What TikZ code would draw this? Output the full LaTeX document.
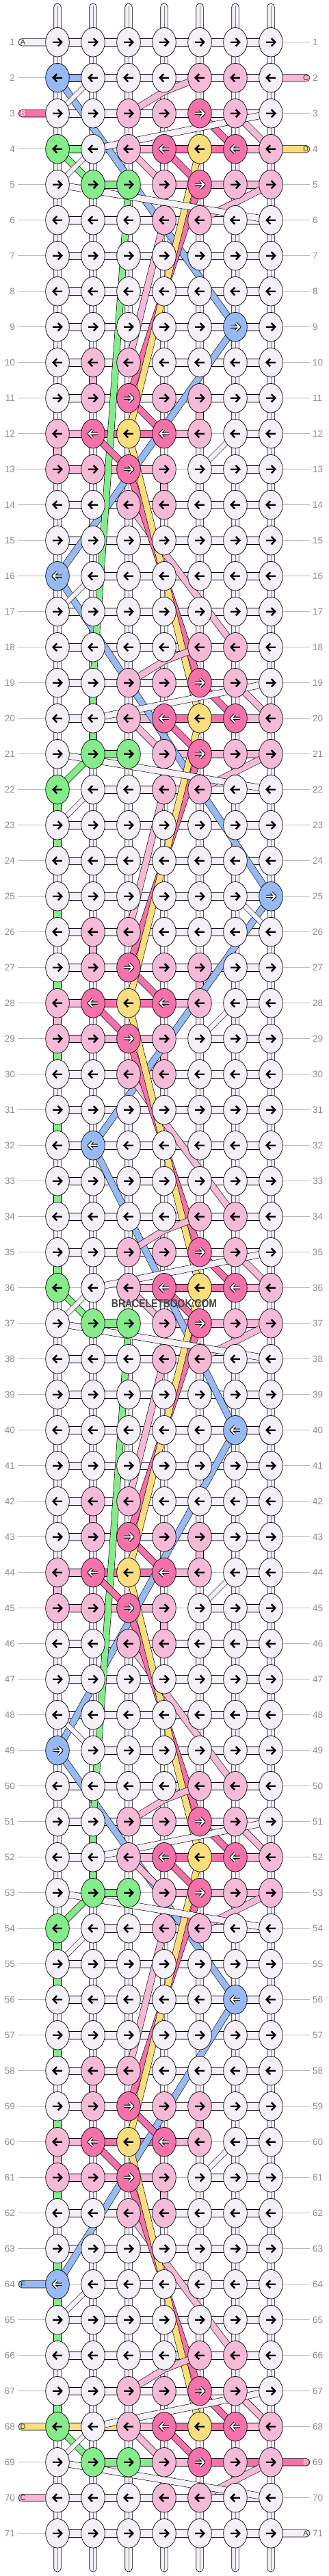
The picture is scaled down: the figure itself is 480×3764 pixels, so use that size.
\documentclass[tikz,border=0pt]{standalone}
\usepackage{fontspec}
\setmainfont{Liberation Sans}
\usetikzlibrary{shapes.geometric}
\definecolor{kW}{HTML}{F5F0F8}
\definecolor{kP}{HTML}{F5BAD7}
\definecolor{kH}{HTML}{F571A9}
\definecolor{kY}{HTML}{FADE7E}
\definecolor{kB}{HTML}{97B9F4}
\definecolor{kG}{HTML}{86EB8B}
\pgfdeclarelayer{grid}
\pgfdeclarelayer{strands}
\pgfsetlayers{grid,strands,main}
\tikzset{
  knot/.style={ellipse, draw=black, line width=0.7pt, minimum width=34.6pt, minimum height=42.6pt, inner sep=0pt},
  band/.style={draw=black, line width=0.6pt, double=#1, double distance=8.8pt, line join=round},
  thinband/.style={draw=black, line width=0.5pt, double=#1, double distance=6.6pt},
  seg/.style={draw=black, line width=0.6pt, fill=#1},
  rowline/.style={draw=black!28, line width=0.8pt},
  rowlbl/.style={text=black!45, font=\fontsize{13.5}{14}\selectfont, inner sep=0pt},
  tablbl/.style={font=\fontsize{11}{12}\selectfont, inner sep=0pt},
  arrowblk/.style={line width=2.4pt, black},
  arrowout/.style={line width=4.3pt, black, line join=round},
  arrowin/.style={line width=2pt, white}
}
\begin{document}
\begin{tikzpicture}[x=1pt, y=-1pt]
\useasboundingbox (0,0) rectangle (480,3764);
\foreach \rw/\cl in {
  1/{W,W,W,W,W,W,W}, 2/{B,W,W,W,P,P,W}, 3/{W,W,P,P,H,P,W}, 4/{G,W,P,H,Y,H,P},
  5/{W,G,G,P,H,P,P}, 6/{W,W,W,P,P,W,W}, 7/{W,W,W,W,W,W,W}, 8/{W,W,W,W,W,W,W},
  9/{W,W,W,W,W,B,W}, 10/{W,P,P,W,W,W,W}, 11/{W,P,H,P,P,W,W}, 12/{P,H,Y,H,P,W,W},
  13/{P,P,H,P,W,W,W}, 14/{W,W,P,P,W,W,W}, 15/{W,W,W,W,W,W,W}, 16/{B,W,W,W,W,W,W},
  17/{W,W,W,W,W,W,W}, 18/{W,W,W,W,P,P,W}, 19/{W,W,P,P,H,P,W}, 20/{W,W,P,H,Y,H,P},
  21/{W,G,G,P,H,P,P}, 22/{G,W,W,P,P,W,W}, 23/{W,W,W,W,W,W,W}, 24/{W,W,W,W,W,W,W},
  25/{W,W,W,W,W,W,B}, 26/{W,P,P,W,W,W,W}, 27/{W,P,H,P,P,W,W}, 28/{P,H,Y,H,P,W,W},
  29/{P,P,H,P,W,W,W}, 30/{W,W,P,P,W,W,W}, 31/{W,W,W,W,W,W,W}, 32/{W,B,W,W,W,W,W},
  33/{W,W,W,W,W,W,W}, 34/{W,W,W,W,P,P,W}, 35/{W,W,P,P,H,P,W}, 36/{G,W,P,H,Y,H,P},
  37/{W,G,G,P,H,P,P}, 38/{W,W,W,P,P,W,W}, 39/{W,W,W,W,W,W,W}, 40/{W,W,W,W,W,B,W},
  41/{W,W,W,W,W,W,W}, 42/{W,P,P,W,W,W,W}, 43/{W,P,H,P,P,W,W}, 44/{P,H,Y,H,P,W,W},
  45/{P,P,H,P,W,W,W}, 46/{W,W,P,P,W,W,W}, 47/{W,W,W,W,W,W,W}, 48/{W,W,W,W,W,W,W},
  49/{B,W,W,W,W,W,W}, 50/{W,W,W,W,P,P,W}, 51/{W,W,P,P,H,P,W}, 52/{W,W,P,H,Y,H,P},
  53/{W,G,G,P,H,P,P}, 54/{G,W,W,P,P,W,W}, 55/{W,W,W,W,W,W,W}, 56/{W,W,W,W,W,B,W},
  57/{W,W,W,W,W,W,W}, 58/{W,P,P,W,W,W,W}, 59/{W,P,H,P,P,W,W}, 60/{P,H,Y,H,P,W,W},
  61/{P,P,H,P,W,W,W}, 62/{W,W,P,P,W,W,W}, 63/{W,W,W,W,W,W,W}, 64/{B,W,W,W,W,W,W},
  65/{W,W,W,W,W,W,W}, 66/{W,W,W,W,P,P,W}, 67/{W,W,P,P,H,P,W}, 68/{G,W,P,H,Y,H,P},
  69/{W,G,G,P,H,P,P}, 70/{W,W,W,P,P,W,W}, 71/{W,W,W,W,W,W,W}} {
  \foreach \kk [count=\ci] in \cl {
    \node[knot, fill=k\kk] (k-\rw-\ci) at ({84+52*(\ci-1)}, {61.7+52*(\rw-1)}) {};
    \def\wa{0}
    \if\kk H\def\wa{1}\fi
    \if\kk B\ifnum\rw>2 \def\wa{1}\fi\fi
    \ifodd\rw \def\dr{1}\else \def\dr{-1}\fi
    \begin{scope}[shift={(k-\rw-\ci.center)}, xscale=\dr]
      \ifnum\wa=1
        \draw[arrowout] (-6.8,0) -- (5.8,0) (0.8,-5.6) -- (6.3,0) -- (0.8,5.6);
        \draw[arrowin] (-6.8,0) -- (5.8,0) (0.8,-5.6) -- (6.3,0) -- (0.8,5.6);
      \else
        \draw[arrowblk] (-6.8,0) -- (5.8,0) (0.8,-5.6) -- (6.3,0) -- (0.8,5.6);
      \fi
    \end{scope}
  }
  \node[rowlbl, anchor=east] (ll-\rw) at ([xshift=-62pt]k-\rw-1.center) {\rw};
  \node[rowlbl, anchor=west] (rl-\rw) at ([xshift=61pt]k-\rw-7.center) {\rw};
}

\begin{pgfonlayer}{grid}
  \foreach \rw in {1,...,71} {
    \draw[rowline] ([xshift=-58pt]k-\rw-1.center) -- ([xshift=57pt]k-\rw-7.center);
  }
  \foreach \ci in {1,...,7} {
    \draw[seg=kW, rounded corners=5.3pt] ([xshift=-5.3pt,yshift=56.7pt]k-1-\ci.center) rectangle ([xshift=5.3pt,yshift=-56.3pt]k-71-\ci.center);
    \draw[black!50, line width=0.5pt] ([yshift=53pt]k-1-\ci.center) -- ([yshift=-53pt]k-71-\ci.center);
  }
  \foreach \rw in {1,...,71} {
    \foreach \ci in {1,...,6} {
      \pgfmathtruncatemacro\cj{\ci+1}
      \draw[seg=kW] ([yshift=5.3pt]k-\rw-\ci.center) rectangle ([yshift=-5.3pt]k-\rw-\cj.center);
    }
  }
  \foreach \rows/\segs in {
    {4,20,36,52,68}/{3/P,4/H,5/H,6/P},
    {5,21,37,53}/{1/N,2/G,3/N,4/P,5/P,6/P},
    {69}/{1/N,2/G,3/G,4/P,5/H,6/H},
    {12,28,44,60}/{1/P,2/H,3/H,4/P,5/N},
    {13,29,45,61}/{1/P,2/P,3/P,4/N},
    {16,22,36,49,54,64}/{1/N},
    {2}/{1/B}, {4}/{1/G}, {36}/{2/N}, {68}/{1/Y,2/Y}} {
    \foreach \rw in \rows {
      \foreach \ci/\kk in \segs {
        \pgfmathtruncatemacro\cj{\ci+1}
        \if\kk N
          \fill[white] ([yshift=6pt]k-\rw-\ci.center) rectangle ([yshift=-6pt]k-\rw-\cj.center);
          \draw[rowline] (k-\rw-\ci.center) -- (k-\rw-\cj.center);
        \else
          \draw[seg=k\kk] ([yshift=5.3pt]k-\rw-\ci.center) rectangle ([yshift=-5.3pt]k-\rw-\cj.center);
        \fi
      }
    }
  }
  \foreach \ci/\rw/\kk in {1/22/G, 1/23/G, 1/25/G, 1/27/G, 1/29/G, 1/31/G, 1/33/G, 1/35/G,
      1/54/G, 1/55/G, 1/57/G, 1/59/G, 1/61/G, 1/63/G, 1/64/G, 1/65/G, 1/67/G,
      2/10/P, 5/11/P, 1/12/P, 4/13/P, 2/26/P, 5/27/P, 1/28/P, 4/29/P,
      2/42/P, 5/43/P, 1/44/P, 4/45/P, 2/58/P, 5/59/P, 1/60/P, 4/61/P} {
    \pgfmathtruncatemacro\rn{\rw+1}
    \draw[seg=k\kk] ([xshift=-5.3pt]k-\rw-\ci.center) rectangle ([xshift=5.3pt]k-\rn-\ci.center);
  }
  \foreach \rw/\kk in {1/W, 3/H, 64/B, 68/Y, 70/P} {
    \draw[seg=k\kk, rounded corners=5.3pt] ([xshift=-57pt,yshift=5.3pt]k-\rw-1.center) rectangle ([yshift=-5.3pt]k-\rw-1.center);
  }
  \foreach \rw/\kk in {2/P, 4/Y, 69/H, 71/W} {
    \draw[seg=k\kk, rounded corners=5.3pt] ([yshift=5.3pt]k-\rw-7.center) rectangle ([xshift=57pt,yshift=-5.3pt]k-\rw-7.center);
  }
\end{pgfonlayer}

\begin{pgfonlayer}{strands}
  \draw[band=kB] (k-2-1.center) -- (k-9-6.center) -- (k-16-1.center) -- (k-25-7.center) -- (k-32-2.center) -- (k-40-6.center) -- (k-49-1.center) -- (k-56-6.center) -- (k-64-1.center);
  \draw[band=kG] (k-5-3.center) -- (k-19-2.center) -- (k-21-2.center) -- (k-22-1.center);
  \draw[band=kG] (k-37-3.center) -- (k-51-2.center) -- (k-53-2.center) -- (k-54-1.center);
  \foreach \rw in {4,36,68} {
    \pgfmathtruncatemacro\rn{\rw+1}
    \draw[band=kG] (k-\rw-1.center) -- (k-\rn-2.center);
  }
  \foreach \ml in {10,26,42,58} {
    \pgfmathtruncatemacro\qa{\ml+1}
    \pgfmathtruncatemacro\qb{\ml+2}
    \pgfmathtruncatemacro\qc{\ml+3}
    \pgfmathtruncatemacro\qd{\ml+4}
    \pgfmathtruncatemacro\qe{\ml+8}
    \pgfmathtruncatemacro\qf{\ml+9}
    \pgfmathtruncatemacro\qg{\ml+10}
    \draw[band=kP] (k-\qd-3.center) -- (k-\qe-6.center);
    \draw[band=kH] (k-\qc-3.center) -- (k-\qf-5.center);
    \draw[band=kY] (k-\qb-3.center) -- (k-\qg-5.center);
    \draw[band=kH] (k-\qa-3.center) -- (k-\qb-4.center);
    \draw[band=kH] (k-\qb-2.center) -- (k-\qc-3.center);
    \draw[thinband=kW] (k-\qb-6.center) -- (k-\qc-5.center);
  }
  \foreach \mr in {2,18,34,50,66} {
    \pgfmathtruncatemacro\qa{\mr+1}
    \pgfmathtruncatemacro\qb{\mr+2}
    \pgfmathtruncatemacro\qc{\mr+3}
    \pgfmathtruncatemacro\qd{\mr+4}
    \ifnum\mr<60
      \pgfmathtruncatemacro\qe{\mr+8}
      \pgfmathtruncatemacro\qf{\mr+9}
      \pgfmathtruncatemacro\qg{\mr+10}
      \draw[band=kP] (k-\qd-4.center) -- (k-\qe-3.center);
      \draw[band=kH] (k-\qc-5.center) -- (k-\qf-3.center);
      \draw[band=kY] (k-\qb-5.center) -- (k-\qg-3.center);
    \fi
    \draw[band=kP] (k-\mr-5.center) -- ([yshift=-20pt]k-\mr-4.center) -- (k-\qa-3.center);
    \draw[band=kP] (k-\qa-6.center) -- (k-\qb-7.center);
    \draw[band=kH] (k-\qa-5.center) -- (k-\qb-6.center);
    \draw[band=kP] (k-\qb-3.center) -- (k-\qc-4.center);
    \draw[band=kH] (k-\qb-4.center) -- (k-\qc-5.center);
    \draw[band=kP] (k-\qc-7.center) -- (k-\qd-5.center);
    \draw[band=kW] (k-\qa-7.center) -- (k-\qb-2.center);
    \draw[band=kW] (k-\qc-1.center) -- (k-\qd-7.center);
  }
  \foreach \ra/\ca/\rb/\cb in {2/2/3/1, 4/2/5/1, 16/2/17/1, 22/2/23/1, 36/2/37/1, 48/1/49/2, 54/2/55/1, 64/2/65/1, 68/2/69/1, 25/6/26/7} {
    \draw[thinband=kW] (k-\ra-\ca.center) -- (k-\rb-\cb.center);
  }
\end{pgfonlayer}

\foreach \rw/\tx/\tc in {1/A/black!80, 3/B/white, 64/F/black!80, 68/D/black!80, 70/C/black!80} {
  \node[tablbl, text=\tc] (tl-\rw) at ([xshift=-50.5pt]k-\rw-1.center) {\tx};
}
\foreach \rw/\tx/\tc in {2/C/black!80, 4/D/black!80, 69/B/white, 71/A/black!80} {
  \node[tablbl, text=\tc] (tr-\rw) at ([xshift=51pt]k-\rw-7.center) {\tx};
}
\node[font=\bfseries\fontsize{17}{17}\selectfont, text=black!72, xscale=0.82, inner sep=0pt] (wm) at (240,1905) {BRACELETBOOK.COM};
\end{tikzpicture}
\end{document}
